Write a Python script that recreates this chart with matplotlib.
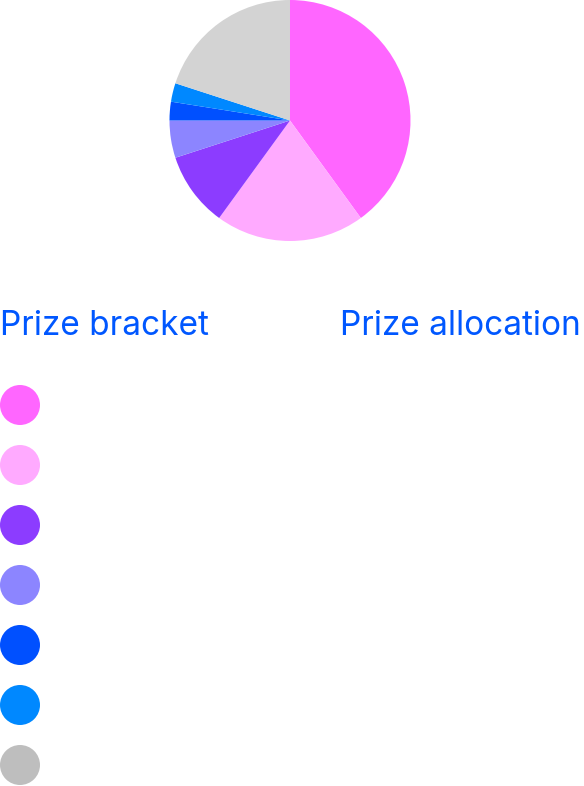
import matplotlib.pyplot as plt

# prize shares, clockwise from 12 o'clock
shares = [40, 20, 10, 5, 2.5, 2.5, 20]
pie_colors = ["#FF66FF", "#FFAAFF", "#8C3CFF", "#8C85FF", "#0050FF", "#0088FF", "#D3D3D3"]
dot_colors = ["#FF66FF", "#FFAAFF", "#8C3CFF", "#8C85FF", "#0050FF", "#0088FF", "#BEBEBE"]
headings = ["Prize bracket", "Prize allocation"]

W, H = 584, 786
fig = plt.figure(figsize=(W / 100, H / 100), dpi=100)
ax = fig.add_axes([0, 0, 1, 1])

ax.pie(shares, colors=pie_colors, startangle=90, counterclock=False,
       center=(290, H - 120.5), radius=120.5, frame=True,
       wedgeprops=dict(linewidth=0))
ax.set_xlim(0, W)
ax.set_ylim(0, H)
ax.set_aspect("equal")
ax.axis("off")

blue = "#0057FF"
ax.text(0, H - 335, headings[0], color=blue, fontsize=24, family="Inter",
        ha="left", va="baseline")
ax.text(581, H - 335, headings[1], color=blue, fontsize=24, family="Inter",
        ha="right", va="baseline")

for i, c in enumerate(dot_colors):
    ax.add_patch(plt.Circle((20, H - (405 + 60 * i)), 20, color=c, lw=0))

fig.savefig("out.png", dpi=100)
